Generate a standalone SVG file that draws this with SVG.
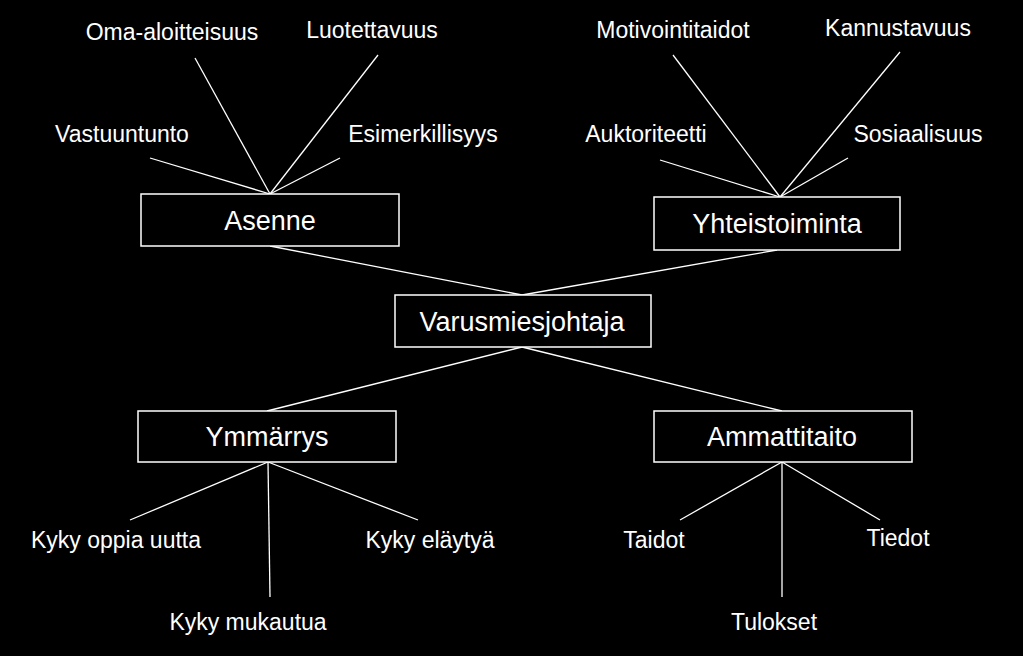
<svg xmlns="http://www.w3.org/2000/svg" width="1023" height="656" viewBox="0 0 1023 656">
<style>
.b{fill:#000;stroke:#fff;stroke-width:1.5}
.t{fill:#fff;font-family:"Liberation Sans",Arial,sans-serif;font-size:27px;text-anchor:middle;dominant-baseline:central}
.l{fill:#fff;font-family:"Liberation Sans",Arial,sans-serif;font-size:23px;text-anchor:middle;dominant-baseline:central}
#connectors line{stroke:#fff;stroke-width:1.3}
</style>
<rect width="1023" height="656" fill="#000"/>
<g id="connectors">
<line x1="150" y1="158" x2="270" y2="194"/>
<line x1="195" y1="58" x2="270" y2="194"/>
<line x1="378" y1="55" x2="270" y2="194"/>
<line x1="340" y1="158" x2="270" y2="194"/>
<line x1="660" y1="160" x2="780" y2="197"/>
<line x1="673" y1="55" x2="780" y2="197"/>
<line x1="900" y1="52" x2="780" y2="197"/>
<line x1="848" y1="158" x2="780" y2="197"/>
<line x1="270" y1="246" x2="522" y2="295"/>
<line x1="777" y1="250" x2="522" y2="295"/>
<line x1="522" y1="347" x2="267" y2="411"/>
<line x1="522" y1="347" x2="782" y2="411"/>
<line x1="268" y1="462" x2="130" y2="520"/>
<line x1="268" y1="462" x2="270" y2="597"/>
<line x1="268" y1="462" x2="418" y2="520"/>
<line x1="782" y1="462" x2="680" y2="520"/>
<line x1="782" y1="462" x2="782" y2="597"/>
<line x1="782" y1="462" x2="880" y2="520"/>
</g>
<g id="asenne"><rect class="b" x="141" y="194" width="258" height="52"/><text class="t" x="270" y="221">Asenne</text></g>
<g id="yhteistoiminta"><rect class="b" x="654" y="197" width="246" height="53"/><text class="t" x="777" y="224">Yhteistoiminta</text></g>
<g id="varusmiesjohtaja"><rect class="b" x="395" y="295" width="256" height="52"/><text class="t" x="522" y="322">Varusmiesjohtaja</text></g>
<g id="ymmarrys"><rect class="b" x="138" y="411" width="258" height="51"/><text class="t" x="267" y="437">Ymmärrys</text></g>
<g id="ammattitaito"><rect class="b" x="654" y="411" width="258" height="51"/><text class="t" x="782" y="437">Ammattitaito</text></g>
<g id="labels">
<text class="l" x="172" y="32">Oma-aloitteisuus</text>
<text class="l" x="372" y="30">Luotettavuus</text>
<text class="l" x="122" y="134">Vastuuntunto</text>
<text class="l" x="423" y="134">Esimerkillisyys</text>
<text class="l" x="673" y="30">Motivointitaidot</text>
<text class="l" x="898" y="28">Kannustavuus</text>
<text class="l" x="646" y="134">Auktoriteetti</text>
<text class="l" x="918" y="134">Sosiaalisuus</text>
<text class="l" x="116" y="540">Kyky oppia uutta</text>
<text class="l" x="430" y="540">Kyky eläytyä</text>
<text class="l" x="248" y="622">Kyky mukautua</text>
<text class="l" x="654" y="540">Taidot</text>
<text class="l" x="898" y="538">Tiedot</text>
<text class="l" x="774" y="622">Tulokset</text>
</g>
</svg>
